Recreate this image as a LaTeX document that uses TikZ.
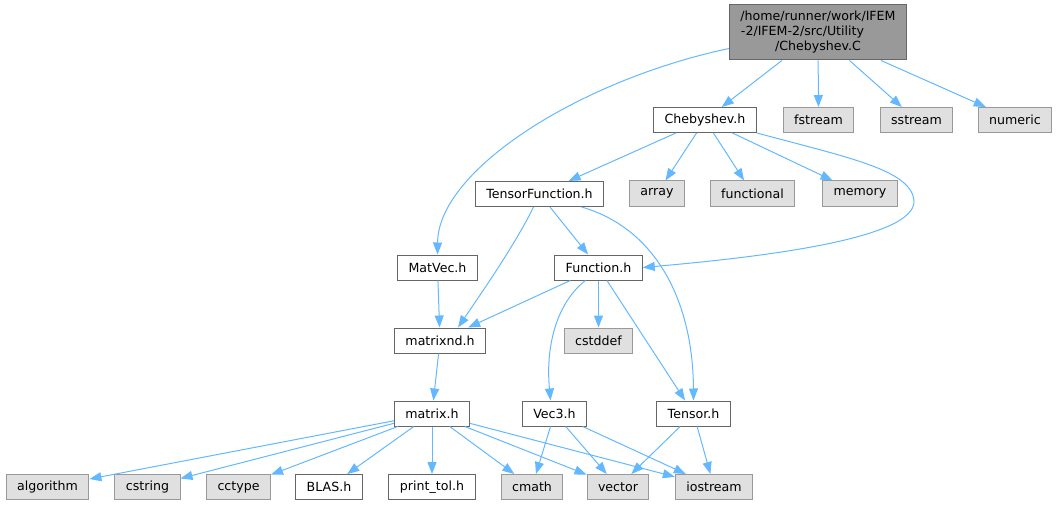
\documentclass[tikz,border=0pt]{standalone}
\usepackage{fontspec}
\setmainfont{DejaVu Sans}
\usetikzlibrary{arrows.meta}
\definecolor{edgeblue}{HTML}{63B8FF}
\definecolor{boxgray}{HTML}{666666}
\definecolor{sysgray}{HTML}{999999}
\definecolor{sysfill}{HTML}{E0E0E0}
\definecolor{rootfill}{HTML}{999999}
\tikzset{
    incbox/.style={draw=boxgray, fill=white, line width=1pt, inner xsep=11pt, inner ysep=0pt, minimum height=25pt, font=\fontsize{12.6}{15}\selectfont},
    sysbox/.style={incbox, draw=sysgray, fill=sysfill},
    rootbox/.style={incbox, fill=rootfill, align=center, minimum height=55pt},
    incl/.style={draw=edgeblue, line width=1pt, -{Triangle[length=12pt,width=9pt]}}
}
\begin{document}
\begin{tikzpicture}[x=1pt,y=-1pt]
    \useasboundingbox (0,0) rectangle (1059,505);

    \node [rootbox] (root) at (818,32.5) {/home/runner/work/IFEM\\-2/IFEM-2/src/Utility\rule{31pt}{0pt}\\/Chebyshev.C};
    \node [incbox] (cheb) at (705,120) {Chebyshev.h};
    \node [sysbox] (fstream) at (818.5,120) {fstream};
    \node [sysbox] (sstream) at (916.5,120) {sstream};
    \node [sysbox] (numeric) at (1015,120) {numeric};
    \node [incbox] (tfunc) at (539.5,194) {TensorFunction.h};
    \node [sysbox] (array) at (657,193.5) {array};
    \node [sysbox] (functional) at (752.5,193.5) {functional};
    \node [sysbox] (memory) at (860,193.5) {memory};
    \node [incbox] (matvec) at (437.5,267.5) {MatVec.h};
    \node [incbox] (function) at (598.5,267.5) {Function.h};
    \node [incbox] (matrixnd) at (440,340.5) {matrixnd.h};
    \node [sysbox] (cstddef) at (598.5,340.5) {cstddef};
    \node [incbox] (matrix) at (432,413.5) {matrix.h};
    \node [incbox] (vec3) at (554.5,413.5) {Vec3.h};
    \node [incbox] (tensor) at (693.5,413.5) {Tensor.h};
    \node [sysbox] (algorithm) at (47.5,487) {algorithm};
    \node [sysbox] (cstring) at (147.5,487) {cstring};
    \node [sysbox] (cctype) at (238.5,487) {cctype};
    \node [incbox] (blas) at (329,487) {BLAS.h};
    \node [incbox] (printtol) at (432,487) {print\_tol.h};
    \node [sysbox] (cmath) at (532,487) {cmath};
    \node [sysbox] (vector) at (618,487) {vector};
    \node [sysbox] (iostream) at (714,487) {iostream};

    \draw [incl] (root) -- (cheb);
    \draw [incl] (root) -- (fstream);
    \draw [incl] (root) -- (sstream);
    \draw [incl] (root) -- (numeric);
    \draw [incl] ([yshift=-16pt]root.west) .. controls (580,80) and (438,170) .. (matvec.north);

    \draw [incl] (cheb) -- (tfunc);
    \draw [incl] (cheb) -- (array);
    \draw [incl] (cheb) -- (functional);
    \draw [incl] (cheb) -- (memory);
    \draw [incl] (cheb.south east) .. controls (850,158) and (910,170) .. (914,200)
        .. controls (918,240) and (750,258) .. (function.east);

    \draw [incl] (tfunc) -- (function);
    \draw [incl] ([xshift=-6pt]tfunc.south) .. controls (515,245) and (480,295) .. ([xshift=18pt]matrixnd.north);
    \draw [incl] ([xshift=42pt]tfunc.south) .. controls (655,228) and (693,300) .. (tensor.north);

    \draw [incl] (matvec) -- (matrixnd);
    \draw [incl] (function) -- (matrixnd);
    \draw [incl] (function) -- (cstddef);
    \draw [incl] ([xshift=-13pt]function.south) .. controls (560,300) and (545,340) .. ([xshift=-4pt]vec3.north);
    \draw [incl] (function) -- (tensor);

    \draw [incl] (matrixnd) -- (matrix);
    \foreach \dst in {algorithm,cstring,cctype,blas,printtol,cmath,vector,iostream}
        \draw [incl] (matrix) -- (\dst);

    \draw [incl] (vec3) -- (cmath);
    \draw [incl] (vec3) -- (vector);
    \draw [incl] (vec3) -- (iostream);
    \draw [incl] (tensor) -- (vector);
    \draw [incl] (tensor) -- (iostream);
\end{tikzpicture}
\end{document}
